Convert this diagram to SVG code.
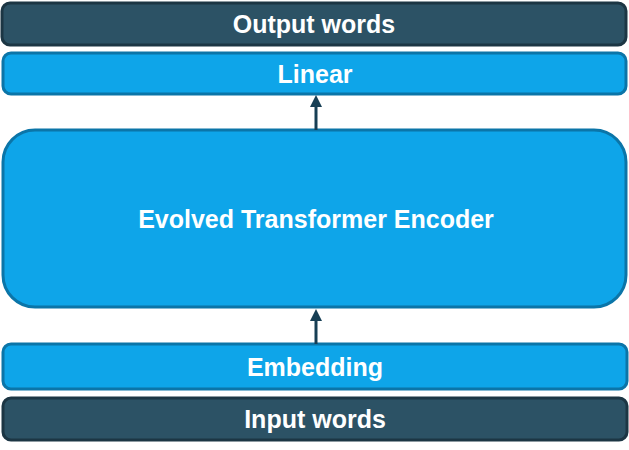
<svg xmlns="http://www.w3.org/2000/svg" width="629" height="450" viewBox="0 0 629 450">
<style>
.dark{fill:#2c5265;stroke:#1c3644;stroke-width:3}
.light{fill:#0ea5e9;stroke:#0b75a8;stroke-width:3}
.t{font-family:"Liberation Sans",Arial,sans-serif;font-weight:bold;font-size:25px;fill:#fff;text-anchor:middle;dominant-baseline:central}
.c{stroke:#173f55;stroke-width:3;fill:none}
.h{fill:#173f55}
</style>
<g id="output"><rect class="dark" x="2" y="3" width="624" height="42" rx="8"/><text class="t" x="314" y="24">Output words</text></g>
<g id="linear"><rect class="light" x="3" y="53" width="623" height="41" rx="8"/><text class="t" x="315" y="74">Linear</text></g>
<g id="encoder"><rect class="light" x="3" y="130" width="623" height="177" rx="32"/><text class="t" x="316" y="219">Evolved Transformer Encoder</text></g>
<g id="embedding"><rect class="light" x="3" y="344" width="624" height="45" rx="8"/><text class="t" x="315" y="367">Embedding</text></g>
<g id="input"><rect class="dark" x="3" y="398" width="624" height="42" rx="8"/><text class="t" x="315" y="419">Input words</text></g>
<g id="connectors">
<line class="c" x1="316" y1="130" x2="316" y2="106"/>
<path class="h" d="M316,95 L322,107 L310,107 Z"/>
<line class="c" x1="316" y1="344" x2="316" y2="320"/>
<path class="h" d="M316,309 L322,321 L310,321 Z"/>
</g>
</svg>
